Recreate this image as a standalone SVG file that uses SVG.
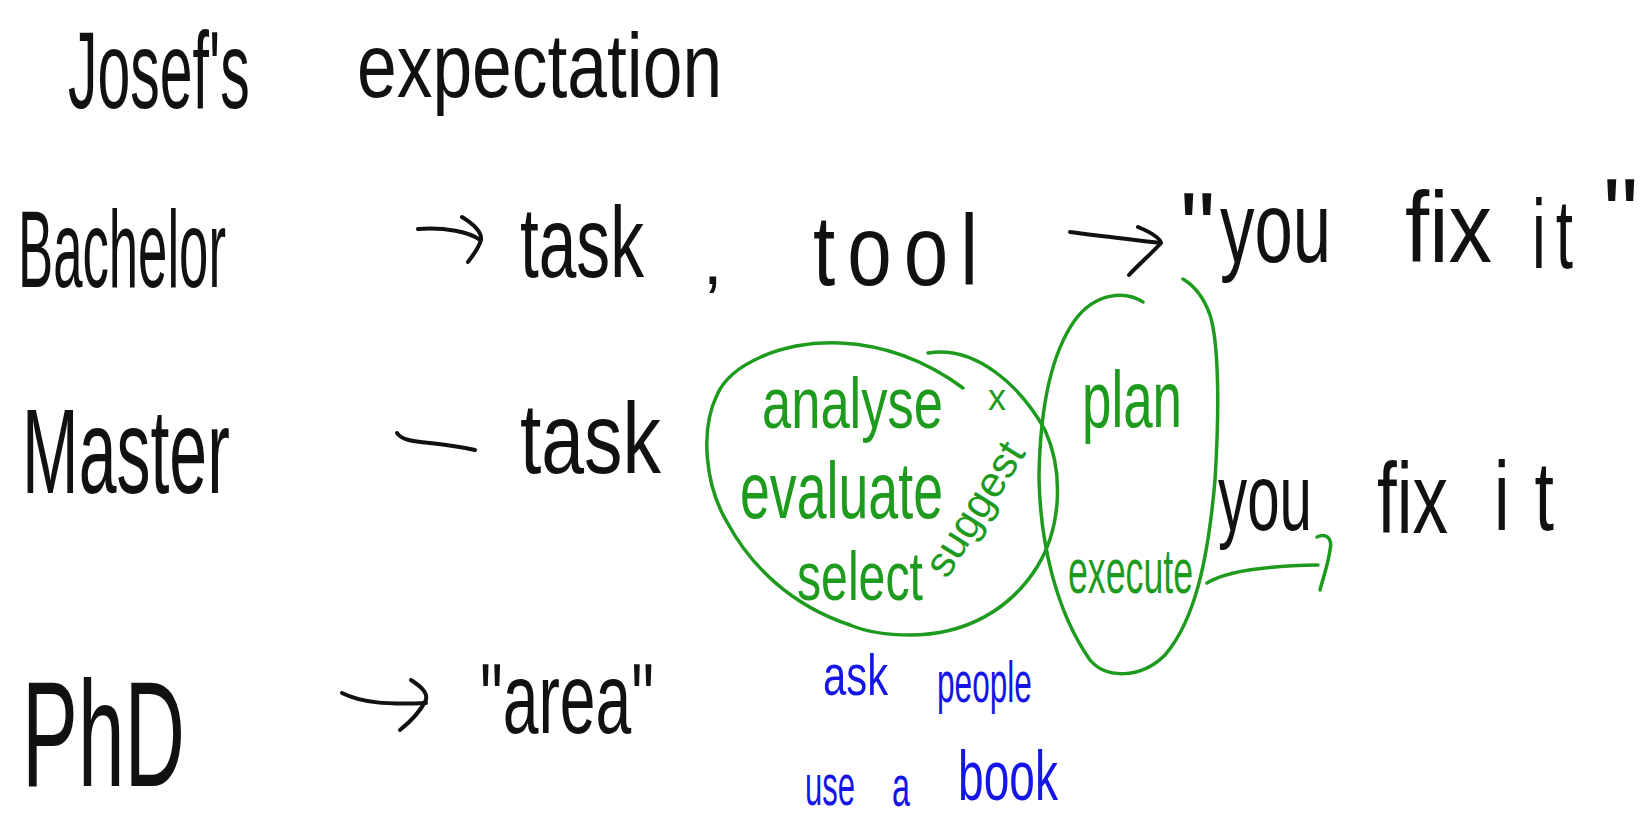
<svg xmlns="http://www.w3.org/2000/svg" width="1648" height="818" viewBox="0 0 1648 818">
<style>
  text { font-family: "Liberation Sans", "DejaVu Sans", sans-serif; }
  .k { fill: #111; }
  .g { fill: #1e9b1e; }
  .b { fill: #1515e6; }
  .sk { fill: none; stroke: #111; stroke-width: 4; stroke-linecap: round; stroke-linejoin: round; }
  .sg { fill: none; stroke: #1e9b1e; stroke-width: 3.5; stroke-linecap: round; stroke-linejoin: round; }
</style>
<rect width="1648" height="818" fill="#ffffff"/>

<g id="title">
  <text class="k" font-size="59" transform="translate(68,108) scale(1,1.86)">Josef's</text>
  <text class="k" font-size="71.4" transform="translate(357,97) scale(1,1.26)">expectation</text>
</g>

<g id="bachelor">
  <text class="k" font-size="52.7" transform="translate(18,287) scale(1,2.09)">Bachelor</text>
</g>
<g id="bachelor-task">
  <text class="k" font-size="67.6" transform="translate(520,277) scale(1,1.48)">task</text>
  <text class="k" x="703" y="284" font-size="70">,</text>
  <text class="k" font-size="80" letter-spacing="12" transform="translate(813,285) scale(1,1.25)">tool</text>
</g>
<g id="bachelor-result">
  <text class="k" x="1180" y="262" font-size="100">"</text>
  <text class="k" font-size="68.9" transform="translate(1220,262) scale(1,1.45)">you</text>
  <text class="k" font-size="87" transform="translate(1405,262) scale(1,1.15)">fix</text>
  <text class="k" font-size="62" letter-spacing="10" transform="translate(1532,268) scale(1,1.6)">it</text>
  <text class="k" x="1603" y="248" font-size="100">"</text>
</g>

<g id="master">
  <text class="k" font-size="68" transform="translate(22,493) scale(1,1.76)">Master</text>
</g>
<g id="master-task">
  <text class="k" font-size="76.9" transform="translate(520,473) scale(1,1.3)">task</text>
</g>
<g id="master-result">
  <text class="k" font-size="58.3" transform="translate(1218,530) scale(1,1.63)">you</text>
  <text class="k" font-size="71" transform="translate(1377,533) scale(1,1.41)">fix</text>
  <text class="k" font-size="70" letter-spacing="25" transform="translate(1494,530) scale(1,1.4)">it</text>
</g>

<g id="phd">
  <text class="k" font-size="83.8" transform="translate(22,786) scale(1,1.79)">PhD</text>
</g>
<g id="phd-area">
  <text class="k" font-size="64.2" transform="translate(480,733) scale(1,1.56)">"area"</text>
</g>

<g id="analysis">
  <path class="sg" d="M963,388 C925,360 885,345 840,343 C780,341 730,365 717,395 C700,430 705,485 727,522 C750,565 790,605 850,625"/>
  <path class="sg" d="M928,353 C975,345 1020,385 1045,430 C1065,475 1060,530 1037,567 C1010,610 965,635 910,635 C880,635 862,630 850,625"/>
  <text class="g" font-size="52.5" transform="translate(762,428) scale(1,1.37)">analyse</text>
  <text class="g" x="988" y="410" font-size="36">x</text>
  <text class="g" font-size="53.7" transform="translate(740,518) scale(1,1.49)">evaluate</text>
  <text class="g" font-size="48.2" transform="translate(797,600) scale(1,1.42)">select</text>
  <text class="g" font-size="42.8" transform="translate(947,580) rotate(-58)">suggest</text>
</g>

<g id="execution">
  <path class="sg" d="M1143,302 C1125,290 1095,293 1075,320 C1050,355 1040,410 1039,477 C1040,540 1055,610 1090,660 C1105,678 1140,680 1165,655 C1195,620 1208,560 1215,480 C1220,400 1218,340 1210,315 C1203,295 1193,285 1183,279"/>
  <text class="g" font-size="52.9" transform="translate(1082,427) scale(1,1.51)">plan</text>
  <text class="g" font-size="35.7" transform="translate(1068,593) scale(1,1.74)">execute</text>
</g>

<g id="resources">
  <text class="b" font-size="41.8" transform="translate(823,695) scale(1,1.39)">ask</text>
  <text class="b" font-size="31.6" transform="translate(937,702) scale(1,1.83)">people</text>
  <text class="b" font-size="31" transform="translate(805,805) scale(1,1.87)">use</text>
  <text class="b" font-size="32.4" transform="translate(892,806) scale(1,1.79)">a</text>
  <text class="b" font-size="46.1" transform="translate(958,800) scale(1,1.52)">book</text>
</g>

<g id="connectors">
  <path class="sk" d="M418,229 C445,227 470,232 480,240"/>
  <path class="sk" d="M462,217 C475,225 482,233 481,240 C478,250 472,256 468,262"/>
  <path class="sk" d="M1070,232 C1100,236 1135,240 1160,243"/>
  <path class="sk" d="M1138,227 C1150,232 1160,238 1161,243 C1150,255 1138,265 1129,275"/>
  <path class="sk" d="M397,433 C405,445 430,440 475,450"/>
  <path class="sk" d="M342,693 C360,702 385,705 426,703"/>
  <path class="sk" d="M411,680 C420,686 428,692 426,700 C420,712 410,722 400,730"/>
  <path class="sg" d="M1207,583 C1225,572 1260,566 1318,565"/>
  <path class="sg" d="M1317,537 C1325,533 1333,537 1330,550 C1328,565 1323,578 1320,590"/>
</g>
</svg>
